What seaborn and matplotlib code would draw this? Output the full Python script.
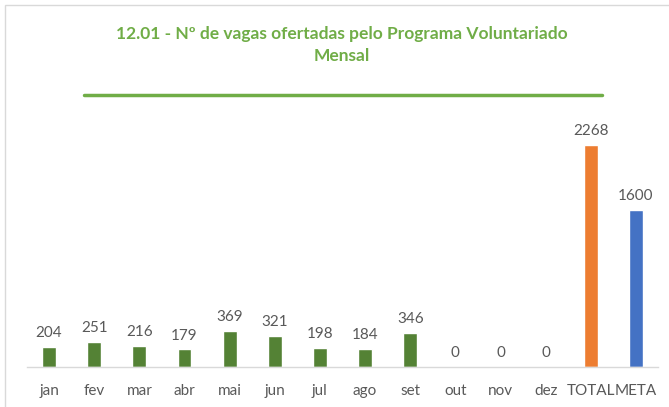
import pandas as pd
import seaborn as sns
import matplotlib.pyplot as plt
from matplotlib.patches import Rectangle

# dados do gráfico
categorias = ['jan', 'fev', 'mar', 'abr', 'mai', 'jun', 'jul', 'ago', 'set',
              'out', 'nov', 'dez', 'TOTAL', 'META']
vagas = [204, 251, 216, 179, 369, 321, 198, 184, 346, 0, 0, 0, 2268, 1600]
cores = ['#548235'] * 12 + ['#ED7D31', '#4472C4']

titulo = '12.01 - Nº de vagas ofertadas pelo Programa Voluntariado\nMensal'

df = pd.DataFrame({'mes': categorias, 'vagas': vagas})

sns.set_theme(style='white')
plt.rcParams['font.family'] = ['Lato', 'DejaVu Sans']

fig = plt.figure(figsize=(6.69, 4.07), dpi=100)
ax = fig.add_axes([26.5 / 669, 40 / 407, 632 / 669, 240 / 407])

sns.barplot(data=df, x='mes', y='vagas', hue='mes', palette=cores,
            width=0.31, legend=False, ax=ax, saturation=1)

for cont in ax.containers:
    ax.bar_label(cont, fmt='%d', padding=5, fontsize=11, color='#595959')

ax.set_xlim(-0.5, 13.5)
ax.set_ylim(0, 2450)
ax.set_xlabel('')
ax.set_ylabel('')
ax.set_yticks([])
ax.tick_params(axis='x', labelsize=11, labelcolor='#595959', length=0, pad=12)
for lado in ['top', 'left', 'right']:
    ax.spines[lado].set_visible(False)
ax.spines['bottom'].set_color('#D9D9D9')
ax.spines['bottom'].set_linewidth(1)

# título e linha verde
fig.text(342 / 669, 1 - 45 / 407, titulo, ha='center', va='center',
         fontsize=12.5, fontweight='bold', color='#70AD47', linespacing=1.45)
fig.add_artist(plt.Line2D([84 / 669, 602 / 669], [1 - 95 / 407, 1 - 95 / 407],
                          color='#70AD47', lw=2.5))

# moldura
fig.add_artist(Rectangle((5 / 669, -0.01), 1.1, 1 - 5 / 407 + 0.01,
                         transform=fig.transFigure, fill=False,
                         edgecolor='#D9D9D9', lw=1))

fig.savefig('out.png', dpi=100)
